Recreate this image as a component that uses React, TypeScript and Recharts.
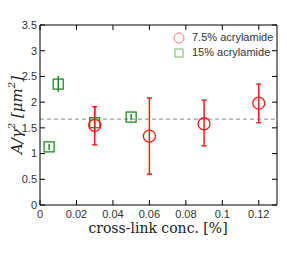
import {
  ComposedChart,
  Scatter,
  XAxis,
  YAxis,
  ErrorBar,
  ReferenceLine,
} from "recharts";

// 7.5% acrylamide
const redX = [0.03, 0.06, 0.09, 0.12];
const redY = [1.55, 1.34, 1.58, 1.98];
const redLow = [1.17, 0.6, 1.15, 1.6];
const redHigh = [1.91, 2.08, 2.04, 2.35];

// 15% acrylamide
const greenX = [0.005, 0.01, 0.03, 0.05];
const greenY = [1.13, 2.35, 1.6, 1.71];
const greenLow = [1.07, 2.2, 1.36, 1.65];
const greenHigh = [1.19, 2.51, 1.9, 1.77];

const meanLine = 1.67;
const xMax = 0.13;
const yMax = 3.5;
const xTicks = [0, 0.02, 0.04, 0.06, 0.08, 0.1, 0.12];
const yTicks = [0, 0.5, 1, 1.5, 2, 2.5, 3, 3.5];

const build = (xs: number[], ys: number[], lo: number[], hi: number[]) =>
  xs.map((x, i) => ({ x, y: ys[i], err: [ys[i] - lo[i], hi[i] - ys[i]] }));

const redData = build(redX, redY, redLow, redHigh);
const greenData = build(greenX, greenY, greenLow, greenHigh);

const RED = "#ff1a1a";
const GREEN = "#1e8c1e";

// plot box given the margins / axis sizes below
const W = 287;
const H = 256;
const M = { top: 25, right: 10, bottom: 0, left: 0 };
const Y_AXIS_W = 40;
const X_AXIS_H = 51;
const box = {
  left: M.left + Y_AXIS_W,
  top: M.top,
  width: W - M.left - M.right - Y_AXIS_W,
  height: H - M.top - M.bottom - X_AXIS_H,
};

const Circle = ({ cx, cy }: any) => (
  <circle cx={cx} cy={cy} r={6} fill="none" stroke={RED} strokeWidth={1.3} />
);
const Square = ({ cx, cy }: any) => (
  <rect x={cx - 5} y={cy - 5} width={10} height={10} fill="none" stroke={GREEN} strokeWidth={1.3} />
);

const tickStyle = { fontFamily: "Liberation Sans, Arial, sans-serif", fontSize: 11, fill: "#333" };

const YLabel = () => (
  <text
    x={17}
    y={115}
    transform="rotate(-90 17 115)"
    textAnchor="middle"
    dominantBaseline="central"
    fontFamily="DejaVu Serif, serif"
    fontStyle="italic"
    fontSize={15}
    fill="#222"
  >
    A/γ<tspan dy={-6} fontSize={10}>2</tspan>
    <tspan dy={6}> [μm</tspan>
    <tspan dy={-6} fontSize={10}>2</tspan>
    <tspan dy={6}>]</tspan>
  </text>
);

const XLabel = () => (
  <text
    x={158}
    y={233}
    textAnchor="middle"
    fontFamily="DejaVu Serif, serif"
    fontSize={14}
    fill="#222"
  >
    cross-link conc. [%]
  </text>
);

// top and right sides of the frame, with mirrored inward ticks
const Frame = () => {
  const px = (v: number) => box.left + (v / xMax) * box.width;
  const py = (v: number) => box.top + box.height - (v / yMax) * box.height;
  const right = box.left + box.width;
  return (
    <svg
      width={W}
      height={H}
      style={{ position: "absolute", left: 0, top: 0, pointerEvents: "none" }}
    >
      <line x1={box.left} y1={box.top} x2={right} y2={box.top} stroke="#000" />
      <line x1={right} y1={box.top} x2={right} y2={box.top + box.height} stroke="#000" />
      {xTicks.map((t) => (
        <line key={"tx" + t} x1={px(t)} y1={box.top} x2={px(t)} y2={box.top + 5} stroke="#000" />
      ))}
      {yTicks.map((t) => (
        <line key={"ty" + t} x1={right} y1={py(t)} x2={right - 5} y2={py(t)} stroke="#000" />
      ))}
    </svg>
  );
};

const LegendBox = () => (
  <div
    style={{
      position: "absolute",
      left: 172,
      top: 30,
      fontFamily: "Liberation Sans, Arial, sans-serif",
      fontSize: 11,
      color: "#333",
      lineHeight: "15px",
    }}
  >
    <div style={{ display: "flex", alignItems: "center" }}>
      <svg width={20} height={14}>
        <circle cx={7} cy={7} r={5} fill="none" stroke="#ff7070" strokeWidth={1} />
      </svg>
      <span>7.5% acrylamide</span>
    </div>
    <div style={{ display: "flex", alignItems: "center" }}>
      <svg width={20} height={14}>
        <rect x={3} y={3} width={8} height={8} fill="none" stroke="#6cb86c" strokeWidth={1} />
      </svg>
      <span>15% acrylamide</span>
    </div>
  </div>
);

export default function App() {
  return (
    <div style={{ position: "absolute", left: 0, top: 0, width: W, height: H }}>
      <ComposedChart width={W} height={H} margin={M}>
        <XAxis
          type="number"
          dataKey="x"
          domain={[0, xMax]}
          ticks={xTicks}
          tickFormatter={(v) => String(v)}
          allowDataOverflow
          height={X_AXIS_H}
          stroke="#000"
          tickSize={-5}
          tickMargin={10}
          tick={tickStyle}
          label={<XLabel />}
        />
        <YAxis
          type="number"
          domain={[0, yMax]}
          ticks={yTicks}
          tickFormatter={(v) => String(v)}
          allowDataOverflow
          width={Y_AXIS_W}
          stroke="#000"
          tickSize={-5}
          tickMargin={8}
          tick={tickStyle}
          label={<YLabel />}
        />
        <ReferenceLine y={meanLine} stroke="#888" strokeDasharray="4 3" ifOverflow="visible" />
        <Scatter
          data={greenData}
          dataKey="y"
          fill={GREEN}
          shape={<Square />}
          isAnimationActive={false}
        >
          <ErrorBar dataKey="err" direction="y" width={0} stroke={GREEN} isAnimationActive={false} />
        </Scatter>
        <Scatter
          data={redData}
          dataKey="y"
          fill={RED}
          shape={<Circle />}
          isAnimationActive={false}
        >
          <ErrorBar dataKey="err" direction="y" width={2.5} stroke={RED} isAnimationActive={false} />
        </Scatter>
      </ComposedChart>
      <Frame />
      <LegendBox />
    </div>
  );
}
